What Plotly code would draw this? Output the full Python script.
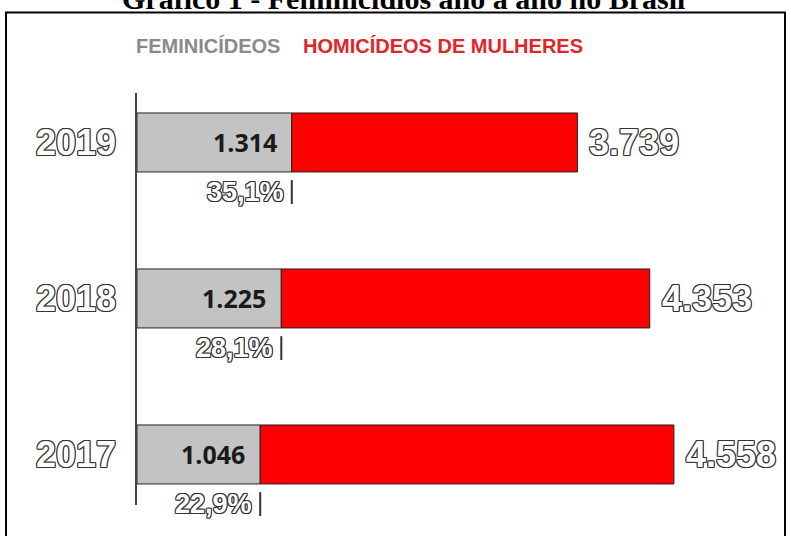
import plotly.graph_objects as go

# ---- data ----
years = ["2017", "2018", "2019"]
positions = [0, 1, 2]
feminicidios = [1046, 1225, 1314]
homicidios_total = [4558, 4353, 3739]
fem_labels = ["1.046", "1.225", "1.314"]
hom_labels = ["4.558", "4.353", "3.739"]
pct_labels = ["22,9%", "28,1%", "35,1%"]
legend_labels = ["FEMINICÍDEOS", "HOMICÍDEOS DE MULHERES"]
title_text = "Gráfico 1 - Feminicídios ano a ano no Brasil"

GRAY = "#c3c3c3"
RED = "#ff0000"
OUTLINE = ("-1px -1px 0 #333, 1px -1px 0 #333, -1px 1px 0 #333, 1px 1px 0 #333, "
           "0 1px 0 #333, 0 -1px 0 #333, 1px 0 0 #333, -1px 0 0 #333")

fig = go.Figure()

fig.add_trace(go.Bar(
    y=positions, x=feminicidios, orientation="h", width=0.378,
    marker=dict(color=GRAY, line=dict(color="#222", width=1)),
    hoverinfo="skip", showlegend=False,
))
fig.add_trace(go.Bar(
    y=positions, x=[t - f for t, f in zip(homicidios_total, feminicidios)],
    base=feminicidios, orientation="h", width=0.378,
    marker=dict(color=RED, line=dict(color="#222", width=1)),
    hoverinfo="skip", showlegend=False,
))
fig.add_trace(go.Scatter(
    x=feminicidios, y=[p - 0.318 for p in positions], mode="markers",
    marker=dict(symbol="line-ns-open", size=17, color="#333", line=dict(color="#333", width=2)),
    hoverinfo="skip", showlegend=False, cliponaxis=False,
))

annotations = []
for p, y_lab, f, t, fl, hl, pl in zip(positions, years, feminicidios, homicidios_total,
                                     fem_labels, hom_labels, pct_labels):
    annotations.append(dict(
        x=0, y=p, xref="x", yref="y", text=y_lab, showarrow=False,
        xanchor="right", xshift=-19,
        font=dict(family="Liberation Sans", size=36, color="white", weight="bold", shadow=OUTLINE),
    ))
    annotations.append(dict(
        x=f, y=p, xref="x", yref="y", text=fl, showarrow=False,
        xanchor="right", xshift=-13,
        font=dict(family="Open Sans", size=25, color="#1a1a1a", weight="bold"),
    ))
    annotations.append(dict(
        x=t, y=p, xref="x", yref="y", text=hl, showarrow=False,
        xanchor="left", xshift=10,
        font=dict(family="Liberation Sans", size=36, color="white", weight="bold", shadow=OUTLINE),
    ))
    annotations.append(dict(
        x=f, y=p, xref="x", yref="y", text=pl, showarrow=False,
        xanchor="right", xshift=-6, yshift=-50,
        font=dict(family="Liberation Sans", size=27, color="white", weight="bold", shadow=OUTLINE),
    ))

annotations.append(dict(
    x=0, y=1, xref="paper", yref="paper", text=legend_labels[0], showarrow=False,
    xanchor="left", yanchor="middle", xshift=-3, yshift=47,
    font=dict(family="Liberation Sans", size=20, color="#8a8a8a", weight="bold"),
))
annotations.append(dict(
    x=0, y=1, xref="paper", yref="paper", text=legend_labels[1], showarrow=False,
    xanchor="left", yanchor="middle", xshift=164, yshift=47,
    font=dict(family="Liberation Sans", size=20, color="#e3242b", weight="bold"),
))
annotations.append(dict(
    x=0.417, y=1, xref="paper", yref="paper", text=title_text, showarrow=False,
    xanchor="center", yanchor="middle", yshift=95,
    font=dict(family="Liberation Serif", size=30, color="black", weight="bold"),
))

fig.update_layout(
    width=791, height=536,
    margin=dict(l=137, r=16, t=93, b=31),
    paper_bgcolor="white", plot_bgcolor="white",
    barmode="overlay",
    xaxis=dict(range=[0, 5416], visible=False, fixedrange=True),
    yaxis=dict(range=[-0.324, 2.317], showgrid=False, zeroline=False,
               showticklabels=False, ticks="", showline=True,
               linecolor="#444", linewidth=2, fixedrange=True),
    annotations=annotations,
    shapes=[dict(type="rect", xref="paper", yref="paper",
                 x0=-0.2053, x1=1.0157, y0=-0.1, y1=1.1954,
                 line=dict(color="black", width=2), fillcolor="rgba(0,0,0,0)")],
    showlegend=False,
)

fig.write_html("out.html", config={"displayModeBar": False},
               post_script="document.body.style.margin='0';")
